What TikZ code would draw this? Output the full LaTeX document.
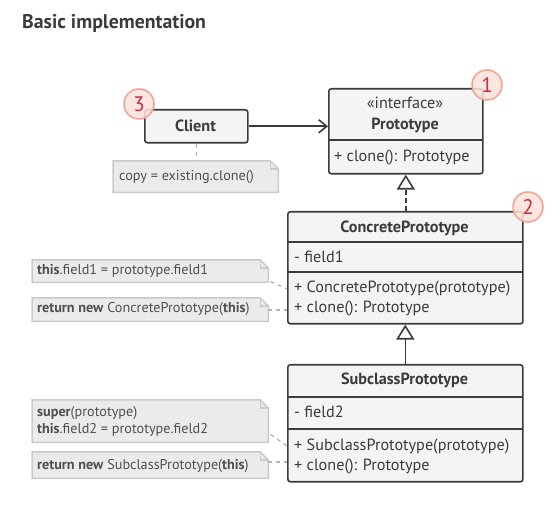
\documentclass[tikz,border=0pt]{standalone}
\usepackage{fontspec}
\setmainfont{PT Sans}
\usetikzlibrary{arrows.meta,backgrounds}

\definecolor{ink}{HTML}{3B3B3B}
\definecolor{boxfill}{HTML}{F4F4F4}
\definecolor{notefill}{HTML}{EBEBEB}
\definecolor{noteline}{HTML}{CACACA}
\definecolor{linkgray}{HTML}{B5B5B5}
\definecolor{badgefill}{HTML}{FDE2DA}
\definecolor{badgeline}{HTML}{F5A08C}
\definecolor{badgetext}{HTML}{CC2A3E}

% folded-corner outline drawn behind a note node
\newcommand{\foldnote}[1]{%
  \begin{scope}[on background layer]
    \draw[noteshape] (#1.north west) -- ([xshift=-8pt]#1.north east)
      -- ([yshift=-8pt]#1.north east) -- (#1.south east) -- (#1.south west) -- cycle;
    \draw[noteshape, fill=none] ([xshift=-8pt]#1.north east)
      -- ([xshift=-8pt,yshift=-8pt]#1.north east) -- ([yshift=-8pt]#1.north east);
  \end{scope}}

\begin{document}
\begin{tikzpicture}[x=1pt, y=-1pt,
  umlbox/.style={draw=ink, line width=1.6pt, fill=boxfill, rounded corners=2.5pt,
    inner sep=0pt, text=ink},
  divider/.style={draw=ink, line width=1.6pt},
  member/.style={anchor=base west, inner sep=0pt, text=ink,
    font=\fontsize{16.2}{19}\selectfont},
  classname/.style={anchor=base, inner sep=0pt, text=ink,
    font=\fontsize{16.2}{19}\selectfont\bfseries},
  notebox/.style={anchor=north west, inner sep=0pt},
  notetext/.style={anchor=base west, inner sep=0pt, text=ink!90,
    font=\fontsize{14.2}{17}\selectfont},
  noteshape/.style={draw=noteline, fill=notefill, line width=1.5pt},
  notelink/.style={draw=linkgray, line width=1.3pt, dash pattern=on 4pt off 4pt},
  badge/.style={circle, minimum size=30pt, inner sep=0pt, draw=badgeline,
    line width=1.5pt, fill=badgefill, fill opacity=0.85, text opacity=1,
    text=badgetext, font=\fontsize{21}{21}\selectfont},
  assoc/.style={draw=ink, line width=1.6pt,
    -{Straight Barb[length=8pt, width=13pt, line width=1.6pt]}},
  inherit/.style={draw=ink, line width=1.6pt,
    -{Triangle[open, length=15pt, width=18pt, line width=1.6pt, fill=white]}},
  realize/.style={inherit, dash pattern=on 5pt off 3pt}
]
\useasboundingbox (0,0) rectangle (560,518);

% heading
\node[anchor=base west, inner sep=0pt, text=ink,
  font=\fontsize{19.8}{22}\selectfont\bfseries] (title) at (22,29) {Basic implementation};

% Client
\node[umlbox, minimum width=103pt, minimum height=33pt, anchor=north west]
  (client) at (144,109) {};
\node[classname] (clientname) at (195.5,132) {Client};

% Prototype interface
\node[umlbox, minimum width=154pt, minimum height=85pt, anchor=north west]
  (proto) at (328,88) {};
\draw[divider] (328,140) -- (482,140);
\node[anchor=base, inner sep=0pt, text=ink, font=\fontsize{16.2}{19}\selectfont]
  (stereo) at (405,109) {«interface»};
\node[classname] (protoname) at (405,130) {Prototype};
\node[member] (protoclone) at (334,162) {+ clone(): Prototype};

% ConcretePrototype
\node[umlbox, minimum width=235pt, minimum height=112pt, anchor=north west]
  (concrete) at (287,211) {};
\draw[divider] (287,242) -- (522,242);
\draw[divider] (287,272) -- (522,272);
\node[classname] (concretename) at (404.5,233) {ConcretePrototype};
\node[member] (field1) at (294,263) {- field1};
\node[member] (concretector) at (294,293) {+ ConcretePrototype(prototype)};
\node[member] (concreteclone) at (294,313) {+ clone(): Prototype};

% SubclassPrototype
\node[umlbox, minimum width=235pt, minimum height=117pt, anchor=north west]
  (subclass) at (287,364) {};
\draw[divider] (287,397) -- (522,397);
\draw[divider] (287,429) -- (522,429);
\node[classname] (subclassname) at (404.5,385) {SubclassPrototype};
\node[member] (field2) at (294,418) {- field2};
\node[member] (subclassctor) at (294,451) {+ SubclassPrototype(prototype)};
\node[member] (subclassclone) at (294,471) {+ clone(): Prototype};

% relations
\draw[assoc] (client.east) -- (proto.west |- client.east);
\draw[realize] (concrete.north -| proto.south) -- (proto.south);
\draw[inherit] (subclass.north) -- (concrete.south);

% notes
\node[notebox, minimum width=165pt, minimum height=31pt] (nclient) at (113,161) {};
\node[notetext] (tclient) at (119,181) {copy = existing.clone()};
\foldnote{nclient}

\node[notebox, minimum width=236pt, minimum height=22pt] (nfield1) at (32,260) {};
\node[notetext] (tfield1) at (37,275) {\textbf{this}.field1 = prototype.field1};
\foldnote{nfield1}

\node[notebox, minimum width=236pt, minimum height=23pt] (nconcrete) at (32,298) {};
\node[notetext] (tconcrete) at (37,313) {\textbf{return new} ConcretePrototype(\textbf{this})};
\foldnote{nconcrete}

\node[notebox, minimum width=236pt, minimum height=42pt] (nsuper) at (32,400) {};
\node[notetext] (tsuper) at (37,417) {\textbf{super}(prototype)};
\node[notetext] (tfield2) at (37,434) {\textbf{this}.field2 = prototype.field2};
\foldnote{nsuper}

\node[notebox, minimum width=236pt, minimum height=26pt] (nsubclass) at (32,452) {};
\node[notetext] (tsubclass) at (37,470) {\textbf{return new} SubclassPrototype(\textbf{this})};
\foldnote{nsubclass}

% note links
\draw[notelink] (client.south) -- (nclient.north -| client.south);
\draw[notelink] ([xshift=2pt,yshift=1pt]nfield1.south east) -- (concrete.west |- 0,289);
\draw[notelink] (nconcrete.east |- 0,310) -- (concrete.west |- 0,310);
\draw[notelink] ([xshift=2pt,yshift=8pt]nsuper.south east) -- (subclass.west |- 0,446);
\draw[notelink] (nsubclass.east |- 0,462) -- (subclass.west |- 0,462);

% step badges
\node[badge] (badge3) at (139,104) {3};
\node[badge] (badge1) at (487,85) {1};
\node[badge] (badge2) at (528,207) {2};
\end{tikzpicture}
\end{document}
